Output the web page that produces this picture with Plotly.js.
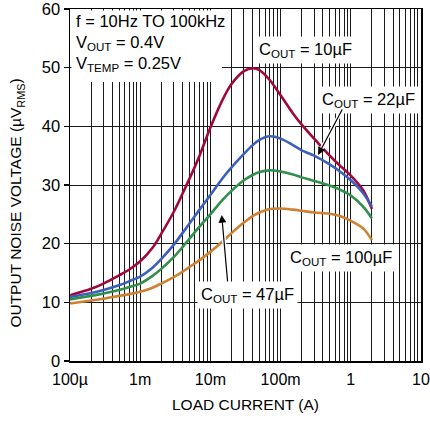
<!DOCTYPE html>
<html>
<head>
<meta charset="utf-8">
<script src="https://cdn.plot.ly/plotly-3.0.1.min.js"></script>
<style>html,body{margin:0;padding:0;background:#fff;}#chart{width:430px;height:421px;}</style>
</head>
<body>
<div id="chart"></div>
<script>
// Load current (A)
const loadCurrent = [1e-4, 2e-4, 3e-4, 5e-4, 7e-4, 1e-3, 1.5e-3, 2e-3, 3e-3, 4e-3, 5e-3, 7e-3, 1e-2, 1.5e-2, 2e-2, 3e-2, 4e-2, 5e-2, 7e-2, 0.1, 0.15, 0.2, 0.3, 0.5, 0.7, 1, 1.5, 2];
// Output noise voltage (µVRMS)
const noise10uF  = [11.2, 12.3, 13.2, 14.6, 15.6, 17.0, 19.3, 21.7, 25.4, 28.5, 31.0, 35.0, 39.8, 44.6, 47.2, 49.4, 49.9, 49.6, 47.9, 45.3, 42.2, 40.3, 37.9, 35.0, 33.3, 31.6, 29.1, 25.9];
const noise22uF  = [10.9, 11.6, 12.1, 12.9, 13.6, 14.4, 15.9, 17.4, 19.8, 21.8, 23.4, 25.8, 28.3, 31.2, 33.0, 35.3, 36.8, 37.7, 38.3, 37.9, 36.8, 35.9, 35.0, 33.5, 32.3, 30.8, 28.6, 26.3];
const noise47uF  = [10.5, 11.1, 11.5, 12.1, 12.6, 13.2, 14.5, 15.7, 17.7, 19.4, 20.8, 22.9, 25.0, 27.5, 29.0, 30.8, 31.7, 32.2, 32.5, 32.3, 31.8, 31.3, 30.7, 29.9, 29.2, 28.2, 26.3, 24.3];
const noise100uF = [9.8, 10.3, 10.6, 11.1, 11.4, 11.8, 12.5, 13.2, 14.3, 15.2, 16.0, 17.2, 18.6, 20.4, 21.8, 23.6, 24.7, 25.3, 25.9, 26.0, 25.8, 25.6, 25.3, 25.1, 24.7, 23.9, 22.6, 20.6];

const seriesNames = ['C<sub>OUT</sub> = 10µF', 'C<sub>OUT</sub> = 22µF', 'C<sub>OUT</sub> = 47µF', 'C<sub>OUT</sub> = 100µF'];
const seriesColors = ['#a0083a', '#3c5fbd', '#2f8f4b', '#cf8033'];

const decadeTicks = [1e-4, 1e-3, 1e-2, 1e-1, 1, 10];
const decadeLabels = ['100µ', '1m', '10m', '100m', '1', '10'];
const yTicks = [0, 10, 20, 30, 40, 50, 60];

const tickvals = [], ticktext = [];
decadeTicks.forEach((d, i) => {
  tickvals.push(d); ticktext.push(decadeLabels[i]);
  if (i < decadeTicks.length - 1) {
    for (let k = 2; k <= 9; k++) { tickvals.push(k * d); ticktext.push(''); }
  }
});

const FONT = 'Liberation Sans, Arial, sans-serif';
const allSeries = [noise10uF, noise22uF, noise47uF, noise100uF];
const traces = allSeries.map((ys, i) => ({
  x: loadCurrent, y: ys, type: 'scatter', mode: 'lines', name: seriesNames[i],
  line: {color: seriesColors[i], width: 2.6, shape: 'spline', smoothing: 0.9},
  hoverinfo: 'skip'
}));

const labelFont = {family: FONT, size: 16.5, color: '#000'};
const annotations = [
  {xref: 'paper', yref: 'paper', x: 0.011, y: 0.966, xanchor: 'left', yanchor: 'middle', showarrow: false, text: 'f = 10Hz TO 100kHz', font: labelFont},
  {xref: 'paper', yref: 'paper', x: 0.011, y: 0.903, xanchor: 'left', yanchor: 'middle', showarrow: false, text: 'V<sub>OUT</sub> = 0.4V', font: labelFont},
  {xref: 'paper', yref: 'paper', x: 0.011, y: 0.843, xanchor: 'left', yanchor: 'middle', showarrow: false, text: 'V<sub>TEMP</sub> = 0.25V', font: labelFont},
  {xref: 'paper', yref: 'paper', x: 0.671, y: 0.8835, xanchor: 'center', yanchor: 'middle', showarrow: false, text: seriesNames[0], font: labelFont, bgcolor: '#fff', borderpad: 3},
  {xref: 'paper', yref: 'paper', x: 0.850, y: 0.7415, xanchor: 'center', yanchor: 'middle', showarrow: false, text: seriesNames[1], font: labelFont, bgcolor: '#fff', borderpad: 3},
  {xref: 'paper', yref: 'paper', x: 0.772, y: 0.2926, xanchor: 'center', yanchor: 'middle', showarrow: false, text: seriesNames[3], font: labelFont, bgcolor: '#fff', borderpad: 3},
  {xref: 'paper', yref: 'paper', x: 0.5057, y: 0.1875, xanchor: 'center', yanchor: 'middle', showarrow: false, text: seriesNames[2], font: labelFont, bgcolor: '#fff', borderpad: 3},
  // arrows (white halo + black arrow)
  {xref: 'x', yref: 'y', x: -0.467, y: 35.1, ax: 25, ay: -47, text: '', showarrow: true, arrowhead: 0, arrowwidth: 4, arrowcolor: '#fff', standoff: 0},
  {xref: 'x', yref: 'y', x: -0.467, y: 35.1, ax: 25, ay: -47, text: '', showarrow: true, arrowhead: 2, arrowsize: 1.3, arrowwidth: 1.2, arrowcolor: '#000', standoff: 0},
  {xref: 'x', yref: 'y', x: -1.839, y: 24.9, ax: 6, ay: 68, text: '', showarrow: true, arrowhead: 0, arrowwidth: 4, arrowcolor: '#fff', standoff: 0},
  {xref: 'x', yref: 'y', x: -1.839, y: 24.9, ax: 6, ay: 68, text: '', showarrow: true, arrowhead: 2, arrowsize: 1.3, arrowwidth: 1.2, arrowcolor: '#000', standoff: 0},
  // y axis title
  {xref: 'paper', yref: 'paper', x: -0.151, y: 0.45, xanchor: 'center', yanchor: 'middle', showarrow: false, textangle: -90,
   text: 'OUTPUT NOISE VOLTAGE (µV<sub>RMS</sub>)', font: {family: FONT, size: 15.5, color: '#000'}},
  {xref: 'paper', yref: 'paper', x: 1.0, y: -0.158, xanchor: 'right', yanchor: 'top', showarrow: false, text: '3020 G52', font: {family: FONT, size: 9, color: '#444'}}
];

const shapes = [
  {type: 'rect', xref: 'paper', yref: 'paper', x0: 0.004, x1: 0.433, y0: 0.7926, y1: 0.996, fillcolor: '#fff', line: {width: 0}, layer: 'above'}
];

const layout = {
  width: 430, height: 421,
  margin: {l: 70, r: 9, t: 9, b: 60},
  paper_bgcolor: '#fff', plot_bgcolor: '#fff',
  showlegend: false,
  font: {family: FONT, size: 16, color: '#000'},
  xaxis: {
    type: 'log', range: [-4, 1], tickmode: 'array', tickvals: tickvals, ticktext: ticktext, tickangle: 0,
    showgrid: true, gridcolor: '#1a1a1a', gridwidth: 1,
    showline: true, mirror: true, linecolor: '#000', linewidth: 1.5,
    ticks: '', zeroline: false, ticklabeloverflow: 'allow', ticklabelstandoff: 3,
    tickfont: {family: FONT, size: 16, color: '#000'},
    title: {text: 'LOAD CURRENT (A)', font: {family: FONT, size: 15.5, color: '#000'}, standoff: 12}
  },
  yaxis: {
    range: [0, 60], tickmode: 'array', tickvals: yTicks, ticktext: yTicks.map(String),
    showgrid: true, gridcolor: '#1a1a1a', gridwidth: 1,
    showline: true, mirror: true, linecolor: '#000', linewidth: 1.5,
    ticks: 'outside', ticklen: 5, tickcolor: '#000', tickwidth: 1.2, zeroline: false, ticklabeloverflow: 'allow',
    tickfont: {family: FONT, size: 16.5, color: '#000'}
  },
  annotations: annotations,
  shapes: shapes
};

Plotly.newPlot('chart', traces, layout, {staticPlot: true, displayModeBar: false});
</script>
</body>
</html>
